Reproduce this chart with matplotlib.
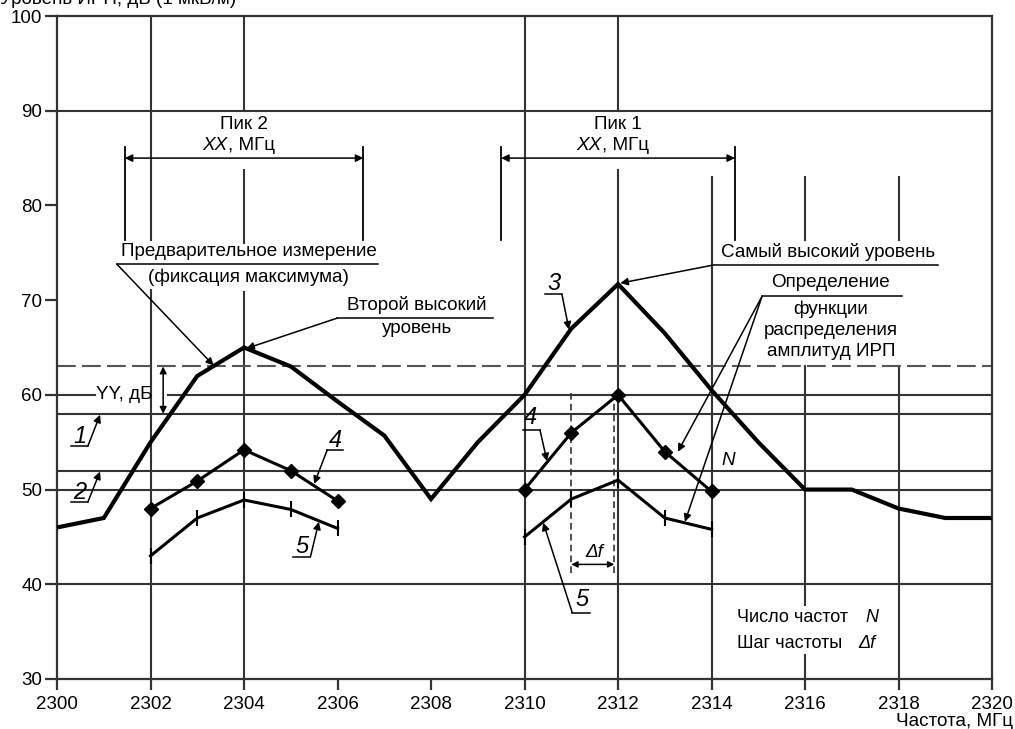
import matplotlib
matplotlib.use("Agg")
import matplotlib.pyplot as plt

plt.rcParams['font.family'] = ['Liberation Sans', 'DejaVu Sans']

# ---------------- data ----------------
freq = list(range(2300, 2321))
peak_hold = [46, 47, 55, 62, 65, 63, 59.3, 55.7, 49, 55, 60, 67, 71.7, 66.5, 60.5, 55, 50, 50, 48, 47, 47]

f_left = [2302, 2303, 2304, 2305, 2306]
m4_left = [48, 50.9, 54.2, 52, 48.8]
m5_left = [43, 47, 48.9, 47.9, 45.9]

f_right = [2310, 2311, 2312, 2313, 2314]
m4_right = [50, 56, 60, 54, 49.8]
m5_right = [45, 49, 51, 47, 45.8]

level_dashed = 63
level_1 = 58
level_2 = 52

x_ticks = list(range(2300, 2321, 2))
y_ticks = list(range(30, 101, 10))

GRID = '#333333'
FS = 13.6
TFS = 13.5

fig = plt.figure(figsize=(10.15, 7.29), dpi=100)
ax = fig.add_axes([0.0562, 0.0686, 0.9212, 0.9094])
ax.set_xlim(2300, 2320)
ax.set_ylim(30, 100)

for s in ax.spines.values():
    s.set_color(GRID)
    s.set_linewidth(1.6)

ax.set_xticks(x_ticks)
ax.set_yticks(y_ticks)
ax.tick_params(axis='x', direction='out', length=8, width=1.6, pad=4, labelsize=TFS, color=GRID)
ax.tick_params(axis='y', direction='out', length=8.5, width=1.6, pad=2, labelsize=TFS, color=GRID)

# ---------------- grid segments ----------------
hgrid = [(90, 2300, 2320), (50, 2300, 2320), (40, 2300, 2320),
         (60, 2300, 2300.82), (60, 2302.38, 2320)]
for y, x0, x1 in hgrid:
    ax.plot([x0, x1], [y, y], color=GRID, lw=1.5, zorder=1)

vgrid = [(2302, 30, 71.1), (2302, 76.3, 100),
         (2304, 30, 70.9), (2304, 76.0, 83.7), (2304, 90, 100),
         (2310, 30, 100),
         (2312, 30, 83.7), (2312, 90, 100),
         (2314, 30, 83),
         (2316, 30, 32.5), (2316, 37.8, 63), (2316, 76.3, 83),
         (2318, 30, 63), (2318, 76.3, 83)]
for x, y0, y1 in vgrid:
    ax.plot([x, x], [y0, y1], color=GRID, lw=1.5, zorder=1)

# threshold lines
ax.plot([2300, 2320], [level_dashed] * 2, color='#555555', lw=1.5, ls=(0, (9, 3)), zorder=1)
ax.plot([2300, 2320], [level_1] * 2, color=GRID, lw=1.5, zorder=1)
ax.plot([2300, 2320], [level_2] * 2, color=GRID, lw=1.5, zorder=1)

# ---------------- curves ----------------
ax.plot(freq, peak_hold, color='black', lw=3.0, zorder=4, solid_joinstyle='miter')
for fx, m4 in [(f_left, m4_left), (f_right, m4_right)]:
    ax.plot(fx, m4, color='black', lw=2.2, marker='D', markersize=7, zorder=5)
for fx, m5 in [(f_left, m5_left), (f_right, m5_right)]:
    ax.plot(fx, m5, color='black', lw=2.2, marker='|', markersize=11, markeredgewidth=1.5, zorder=5)

def arrow(tip, start, style='-|>'):
    ax.annotate('', xy=tip, xytext=start,
                arrowprops=dict(arrowstyle=style, lw=1.1, color='black',
                                shrinkA=0, shrinkB=0, mutation_scale=11), zorder=6)

def uline(x0, x1, y):
    ax.plot([x0, x1], [y, y], color='black', lw=1.1, zorder=6)

# ---------------- peak brackets ----------------
for xl, xr, name in [(2301.45, 2306.55, 'Пик 2'), (2309.5, 2314.5, 'Пик 1')]:
    ax.plot([xl, xl], [76.3, 86.2], color='black', lw=1.3)
    ax.plot([xr, xr], [76.3, 86.2], color='black', lw=1.3)
    ax.annotate('', xy=(xl, 85.0), xytext=(xr, 85.0),
                arrowprops=dict(arrowstyle='<|-|>', lw=1.1, color='black',
                                shrinkA=0, shrinkB=0, mutation_scale=11))
    xc = (xl + xr) / 2
    ax.text(xc, 88.6, name, ha='center', va='center', fontsize=FS)
    ax.text(xc - 0.35, 86.3, 'XX', ha='right', va='center', fontsize=FS, style='italic')
    ax.text(xc - 0.35, 86.3, ', МГц', ha='left', va='center', fontsize=FS)

# ---------------- annotations ----------------
ax.text(2304.1, 75.1, 'Предварительное измерение', ha='center', va='center', fontsize=FS)
uline(2301.28, 2306.87, 73.8)
ax.text(2304.1, 72.4, '(фиксация максимума)', ha='center', va='center', fontsize=FS)
arrow((2303.35, 63.1), (2301.28, 73.8))

ax.text(2307.7, 69.5, 'Второй высокий', ha='center', va='center', fontsize=FS)
uline(2305.99, 2309.33, 68.1)
ax.text(2307.7, 67.0, 'уровень', ha='center', va='center', fontsize=FS)
arrow((2304.05, 64.9), (2305.99, 68.1))

ax.text(2316.5, 75.1, 'Самый высокий уровень', ha='center', va='center', fontsize=FS)
uline(2314.03, 2318.85, 73.7)
arrow((2312.05, 71.8), (2314.03, 73.7))

ax.text(2316.55, 71.9, 'Определение', ha='center', va='center', fontsize=FS)
uline(2315.08, 2318.07, 70.4)
ax.text(2316.55, 69.0, 'функции', ha='center', va='center', fontsize=FS)
ax.text(2316.55, 66.8, 'распределения', ha='center', va='center', fontsize=FS)
ax.text(2316.55, 64.6, 'амплитуд ИРП', ha='center', va='center', fontsize=FS)
arrow((2313.28, 54.0), (2315.08, 70.4))
arrow((2313.43, 46.6), (2315.08, 70.4))

# YY dB
ax.text(2301.44, 60, 'YY, дБ', ha='center', va='center', fontsize=FS)
ax.annotate('', xy=(2302.27, 58), xytext=(2302.27, 63),
            arrowprops=dict(arrowstyle='<|-|>', lw=1.1, color='black',
                            shrinkA=0, shrinkB=0, mutation_scale=10))

# numbered labels: (text x, text y, label, underline x0, x1, y, leader start, tip)
labels = [
    (2300.49, 55.6, '1', 2300.3, 2300.66, 54.6, (2300.66, 54.6), (2300.92, 57.9)),
    (2300.49, 49.7, '2', 2300.3, 2300.66, 48.7, (2300.66, 48.7), (2300.92, 51.9)),
    (2310.62, 71.8, '3', 2310.44, 2310.8, 70.6, (2310.8, 70.6), (2310.95, 66.9)),
    (2305.95, 55.2, '4', 2305.78, 2306.12, 54.2, (2305.78, 54.2), (2305.5, 50.6)),
    (2305.25, 44.0, '5', 2305.05, 2305.42, 42.9, (2305.42, 42.9), (2305.6, 46.6)),
    (2310.12, 57.6, '4', 2309.97, 2310.33, 56.3, (2310.33, 56.3), (2310.48, 53.0)),
    (2311.22, 38.4, '5', 2311.02, 2311.4, 37.0, (2311.02, 37.0), (2310.4, 46.5)),
]
for tx, ty, lab, u0, u1, uy, st, tip in labels:
    ax.text(tx, ty, lab, ha='center', va='center', fontsize=17, style='italic')
    uline(u0, u1, uy)
    arrow(tip, st)

# delta f
ax.plot([2311, 2311], [41.2, 60.3], color=GRID, lw=1.2, ls=(0, (4, 2.5)), zorder=2)
ax.plot([2311.92, 2311.92], [41.2, 60.0], color=GRID, lw=1.2, ls=(0, (4, 2.5)), zorder=2)
ax.annotate('', xy=(2311, 42.1), xytext=(2311.92, 42.1),
            arrowprops=dict(arrowstyle='<|-|>', lw=1.1, color='black',
                            shrinkA=0, shrinkB=0, mutation_scale=9))
ax.text(2311.5, 43.4, 'Δf', ha='center', va='center', fontsize=FS, style='italic')
ax.text(2314.35, 53.1, 'N', ha='center', va='center', fontsize=FS, style='italic')

ax.text(2314.55, 36.5, 'Число частот', ha='left', va='center', fontsize=13)
ax.text(2317.3, 36.5, 'N', ha='left', va='center', fontsize=13, style='italic')
ax.text(2314.55, 33.8, 'Шаг частоты', ha='left', va='center', fontsize=13)
ax.text(2317.13, 33.8, 'Δf', ha='left', va='center', fontsize=13, style='italic')

# axis titles
fig.text(0.0, 1 - 4 / 729, 'Уровень ИРП, дБ (1 мкВ/м)', ha='left', va='baseline', fontsize=FS)
fig.text(0.998, 1 - 721 / 729, 'Частота, МГц', ha='right', va='center', fontsize=FS)

fig.savefig('out.png', dpi=100)
